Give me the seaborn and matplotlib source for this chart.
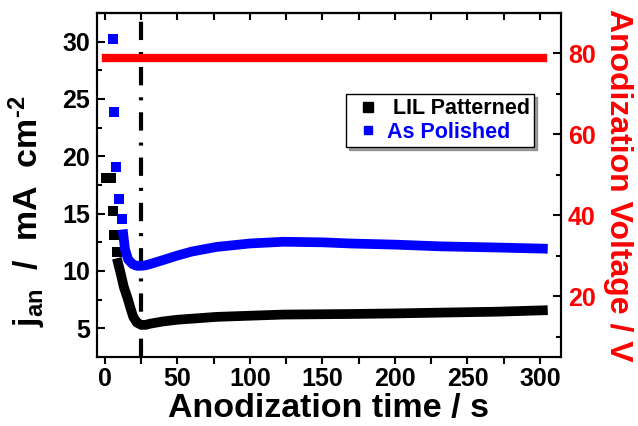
import matplotlib
matplotlib.use('Agg')
import matplotlib.pyplot as plt
import seaborn as sns
from matplotlib.lines import Line2D
from matplotlib.ticker import MultipleLocator

sns.set_theme(style='ticks')
plt.rcParams['font.family'] = ['Liberation Sans', 'DejaVu Sans']
plt.rcParams['font.weight'] = 'bold'
plt.rcParams['mathtext.fontset'] = 'custom'
plt.rcParams['mathtext.rm'] = 'Liberation Sans:bold'
plt.rcParams['mathtext.it'] = 'Liberation Sans:bold'
plt.rcParams['mathtext.bf'] = 'Liberation Sans:bold'
plt.rcParams['lines.scale_dashes'] = False
plt.rcParams['axes.edgecolor'] = 'black'
plt.rcParams['xtick.color'] = 'black'
plt.rcParams['ytick.color'] = 'black'
plt.rcParams['text.color'] = 'black'
plt.rcParams['axes.labelcolor'] = 'black'

# ---- data ----
lil_sparse_t = [0.5, 4.0, 5.2, 6.2, 8.1]
lil_sparse_j = [18.1, 18.1, 15.2, 13.1, 11.7]
lil_band_t = [9.0, 10.8, 13.0, 15.4, 17.5, 19.5, 22, 25, 28, 31, 40, 50, 77, 100, 123, 169, 200, 231, 270, 302]
lil_band_j = [10.7, 9.8, 8.6, 7.7, 6.8, 6.0, 5.5, 5.3, 5.3, 5.4, 5.6, 5.75, 6.0, 6.1, 6.2, 6.25, 6.3, 6.37, 6.45, 6.57]

pol_sparse_t = [5.5, 6.4, 7.8, 10.0, 11.5]
pol_sparse_j = [30.2, 23.9, 19.05, 16.3, 14.5]
pol_band_t = [12.6, 13.8, 16, 19, 22, 25, 28, 31, 40, 50, 60, 77, 100, 123, 150, 169, 200, 231, 270, 302]
pol_band_j = [13.2, 11.9, 11.0, 10.6, 10.45, 10.45, 10.5, 10.6, 10.95, 11.35, 11.7, 12.1, 12.4, 12.55, 12.5, 12.4, 12.3, 12.15, 12.05, 11.95]

volt_t = [0.8, 302]
volt_v = [79, 79]

t_marker = 24.5

legend_labels = [' LIL Patterned', 'As Polished']
x_ticks = [0, 50, 100, 150, 200, 250, 300]
yl_ticks = [5, 10, 15, 20, 25, 30]
yr_ticks = [20, 40, 60, 80]

# ---- figure ----
fig = plt.figure(figsize=(6.38, 4.26), dpi=100)
ax = fig.add_axes([97/638, 69/426, 464/638, 344/426])
ax2 = ax.twinx()

ax.axvline(t_marker, color='black', lw=3, dashes=(13.2, 8.6, 2.2, 8.6), zorder=1)

band_lw = 7.0
msize = 47
sns.lineplot(x=lil_band_t, y=lil_band_j, ax=ax, color='black', lw=band_lw,
             estimator=None, sort=False, solid_capstyle='projecting', zorder=3)
sns.scatterplot(x=lil_sparse_t, y=lil_sparse_j, ax=ax, color='black', marker='s',
                s=msize, linewidth=0, zorder=3)
sns.lineplot(x=pol_band_t, y=pol_band_j, ax=ax, color='blue', lw=band_lw,
             estimator=None, sort=False, solid_capstyle='projecting', zorder=4)
sns.scatterplot(x=pol_sparse_t, y=pol_sparse_j, ax=ax, color='blue', marker='s',
                s=msize, linewidth=0, zorder=4)

sns.lineplot(x=volt_t, y=volt_v, ax=ax2, color='red', lw=6.0,
             estimator=None, sort=False, solid_capstyle='projecting')

ax.set_xlim(-5.5, 314.5)
ax.set_ylim(2.5, 32.5)
ax2.set_ylim(5, 90)

ax.set_xticks(x_ticks)
ax.set_yticks(yl_ticks)
ax2.set_yticks(yr_ticks)
ax.xaxis.set_minor_locator(MultipleLocator(25))
ax.yaxis.set_minor_locator(MultipleLocator(2.5))
ax2.yaxis.set_minor_locator(MultipleLocator(10))

for a in (ax, ax2):
    for s in a.spines.values():
        s.set_linewidth(1.5)
        s.set_color('black')
        s.set_visible(True)

ax.tick_params(axis='x', which='both', direction='out', length=5, width=1.5,
               bottom=True, top=False, labelsize=18, pad=2)
ax.tick_params(axis='y', which='major', direction='in', length=6, width=1.5,
               left=True, right=False, labelsize=18, pad=5)
ax.tick_params(axis='y', which='minor', direction='in', length=3.5, width=1.5,
               left=True, right=False)
ax2.tick_params(axis='y', which='major', direction='in', length=6, width=1.5,
                right=True, left=False, labelsize=18, pad=5, labelcolor='red')
ax2.tick_params(axis='y', which='minor', direction='in', length=3.5, width=1.5,
                right=True, left=False)

secx = ax.secondary_xaxis('top')
secx.set_xticks(x_ticks)
secx.xaxis.set_minor_locator(MultipleLocator(25))
secx.tick_params(axis='x', which='both', direction='in', length=5, width=1.5,
                 labeltop=False)
secx.spines['top'].set_linewidth(1.5)

for lab in ax.get_xticklabels() + ax.get_yticklabels() + ax2.get_yticklabels():
    lab.set_fontweight('bold')

ax.set_xlabel('Anodization time / s', fontsize=24.5, fontweight='bold', labelpad=2)
ax.set_ylabel('$\\mathbf{j_{an}}$  /  mA  cm$^{\\mathbf{\u2010 2}}$', fontsize=24.5,
              fontweight='bold')
ax.yaxis.set_label_coords((48 - 97) / 464, (357 - 211) / 344)
ax2.set_ylabel('Anodization Voltage / V', fontsize=23, fontweight='bold',
               color='red', rotation=270, labelpad=27)

handles = [Line2D([], [], ls='none', marker='s', color='black', markersize=6.5),
           Line2D([], [], ls='none', marker='s', color='blue', markersize=6.0)]
leg = ax2.legend(handles, legend_labels, loc='upper left',
                 bbox_to_anchor=((346 - 97) / 464, (357 - 94) / 344),
                 borderaxespad=0, frameon=True, fancybox=False, shadow=True,
                 edgecolor='black', prop={'weight': 'bold', 'size': 15.5},
                 labelcolor=['black', 'blue'], handlelength=1.6,
                 handletextpad=0.1, borderpad=0.2, labelspacing=0.12)
leg.get_frame().set_linewidth(1.0)

fig.savefig('out.png', dpi=100)
